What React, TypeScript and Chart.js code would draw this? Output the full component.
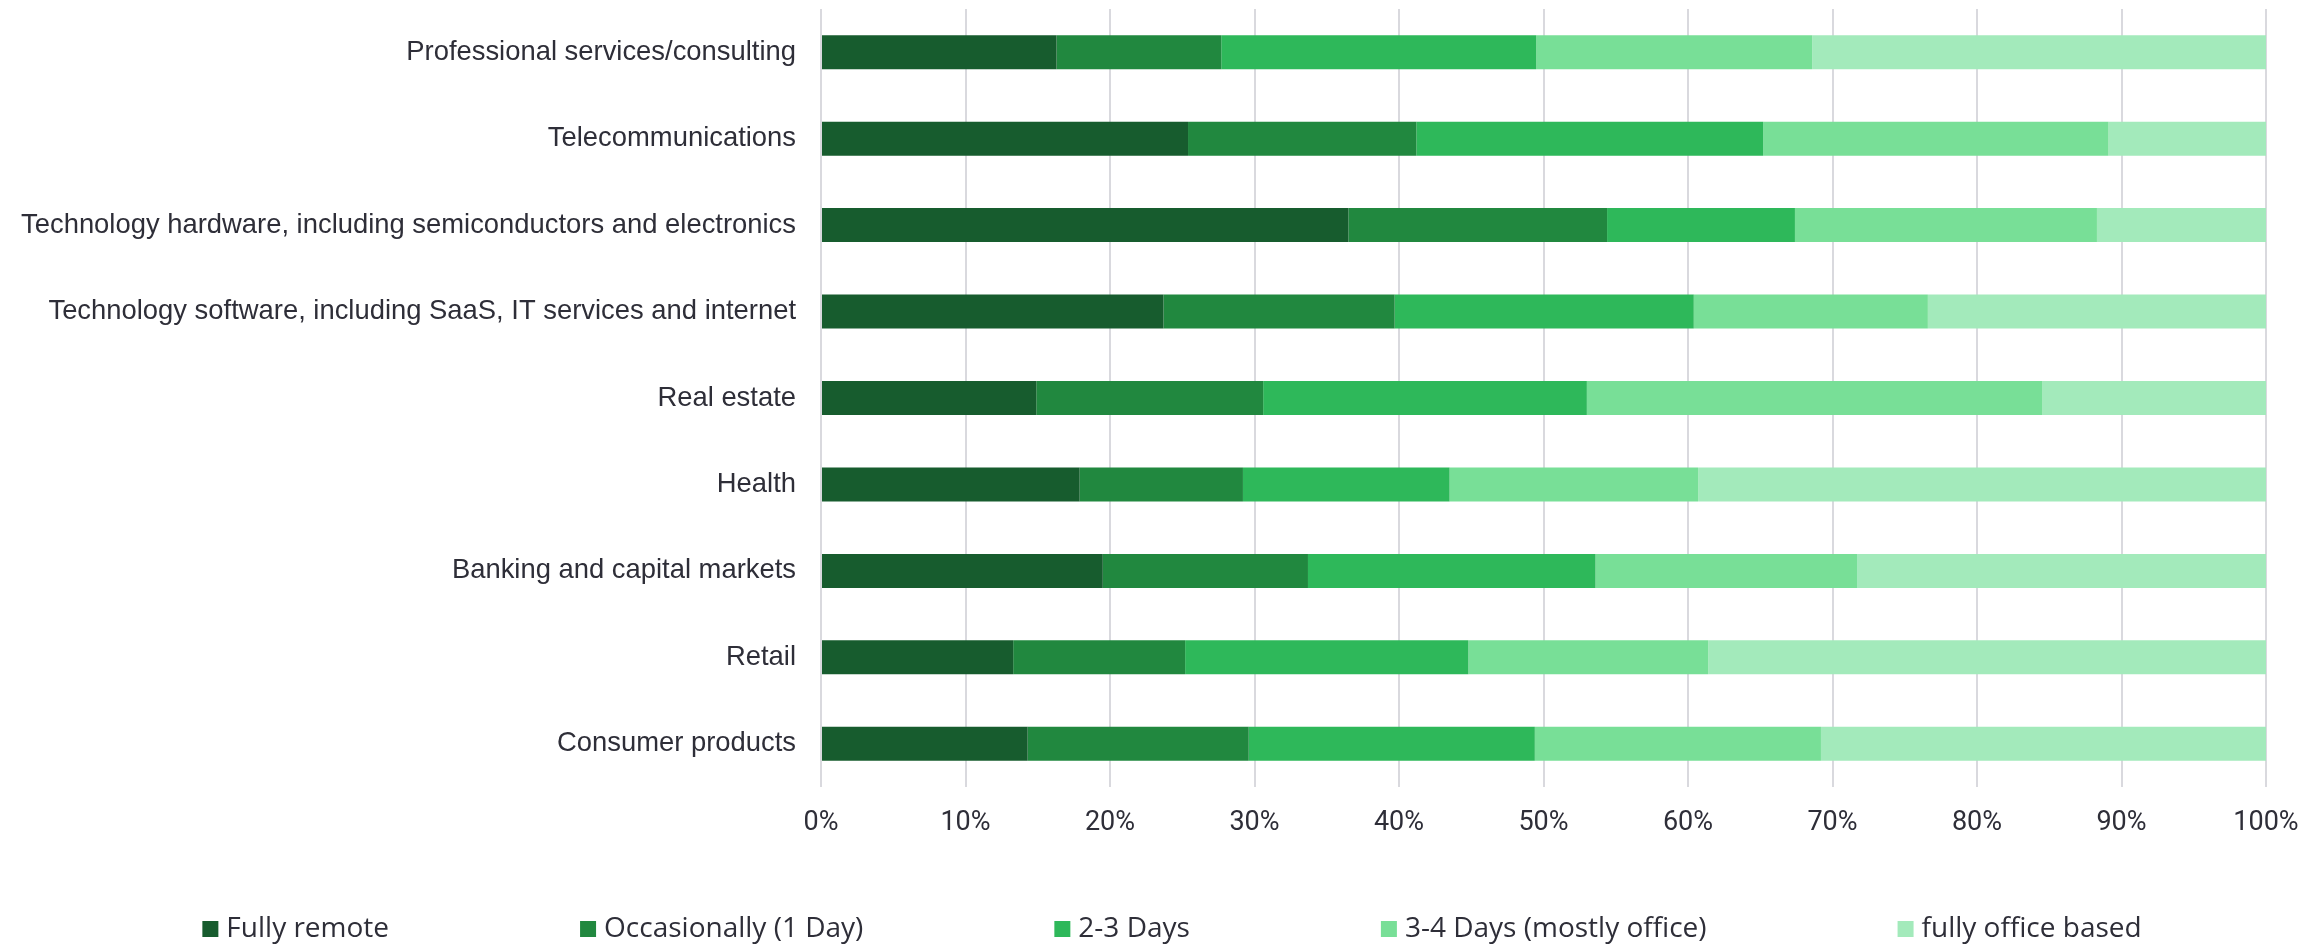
import React, { useEffect, useRef } from "react";
import { Chart, registerables } from "chart.js";

Chart.register(...registerables);

const categories = [
  "Professional services/consulting",
  "Telecommunications",
  "Technology hardware, including semiconductors and electronics",
  "Technology software, including SaaS, IT services and internet",
  "Real estate",
  "Health",
  "Banking and capital markets",
  "Retail",
  "Consumer products",
];

const seriesNames = [
  "Fully remote",
  "Occasionally (1 Day)",
  "2-3 Days",
  "3-4 Days (mostly office)",
  "fully office based",
];

const fullyRemote = [16.3, 25.4, 36.5, 23.7, 14.9, 17.9, 19.5, 13.3, 14.3];
const occasionally = [11.4, 15.8, 17.9, 16.0, 15.7, 11.3, 14.2, 11.9, 15.3];
const twoThreeDays = [21.8, 24.0, 13.0, 20.7, 22.4, 14.3, 19.9, 19.6, 19.8];
const threeFourDays = [19.1, 23.9, 20.9, 16.2, 31.5, 17.2, 18.1, 16.6, 19.8];
const fullyOffice = [31.4, 10.9, 11.7, 23.4, 15.5, 39.3, 28.3, 38.6, 30.8];

const xTicks = [0, 10, 20, 30, 40, 50, 60, 70, 80, 90, 100];

const colors = ["#175c2e", "#21883f", "#2eb85a", "#78df97", "#a3eabb"];
const TEXT = "#2e2e38";

const legendPlugin = {
  id: "customLegend",
  afterDraw(chart: any) {
    const ctx = chart.ctx;
    ctx.save();
    ctx.font = "28px 'Open Sans'";
    ctx.textBaseline = "middle";
    ctx.textAlign = "left";
    const box = 16;
    const textGap = 8;
    const itemGap = 191;
    const items = chart.data.datasets.map((d: any) => ({
      label: d.label,
      color: d.backgroundColor,
      w: box + textGap + ctx.measureText(d.label).width,
    }));
    const total =
      items.reduce((s: number, it: any) => s + it.w, 0) + itemGap * (items.length - 1);
    let x = chart.width / 2 + 20 - total / 2;
    const y = 929;
    for (const it of items) {
      ctx.fillStyle = it.color;
      ctx.fillRect(x, y - 8, box, box);
      ctx.fillStyle = TEXT;
      ctx.fillText(it.label, x + box + textGap, y);
      x += it.w + itemGap;
    }
    ctx.restore();
  },
};

export default function App() {
  const ref = useRef<HTMLCanvasElement | null>(null);

  useEffect(() => {
    document.body.style.margin = "0";
    const seriesValues = [fullyRemote, occasionally, twoThreeDays, threeFourDays, fullyOffice];
    const chart = new Chart(ref.current as HTMLCanvasElement, {
      type: "bar",
      data: {
        labels: categories,
        datasets: seriesNames.map((name, i) => ({
          label: name,
          data: seriesValues[i],
          backgroundColor: colors[i],
          borderWidth: 0,
          barPercentage: 0.393,
          categoryPercentage: 1,
        })),
      },
      options: {
        indexAxis: "y",
        responsive: false,
        animation: false,
        devicePixelRatio: 1,
        layout: { padding: { top: 9, right: 38, left: 0, bottom: 0 } },
        plugins: {
          legend: { display: false },
          tooltip: { enabled: false },
        },
        scales: {
          x: {
            stacked: true,
            min: 0,
            max: 100,
            afterFit: (scale: any) => {
              scale.height = 157;
              scale.paddingLeft = 0;
              scale.paddingRight = 0;
              scale.paddingTop = 0;
              scale.paddingBottom = 0;
            },
            afterBuildTicks: (scale: any) => {
              scale.ticks = xTicks.map((v) => ({ value: v }));
            },
            grid: {
              color: "#d9d9de",
              lineWidth: 2,
              drawTicks: false,
            },
            border: { display: false },
            ticks: {
              padding: 20,
              color: TEXT,
              font: { family: "Roboto", size: 27 },
              callback: (v: any) => v + "%",
            },
          },
          y: {
            stacked: true,
            afterFit: (scale: any) => {
              scale.width = 821;
              scale.paddingTop = 0;
              scale.paddingBottom = 0;
              scale.paddingLeft = 0;
              scale.paddingRight = 0;
            },
            grid: { display: false, drawTicks: false },
            border: { display: false },
            ticks: {
              padding: 25,
              color: TEXT,
              font: { family: "'Liberation Sans', Arial", size: 27.4 },
            },
          },
        },
      },
      plugins: [legendPlugin],
    });
    return () => chart.destroy();
  }, []);

  return (
    <div style={{ width: 2304, height: 944 }}>
      <canvas ref={ref} width={2304} height={944} style={{ display: "block" }} />
    </div>
  );
}
